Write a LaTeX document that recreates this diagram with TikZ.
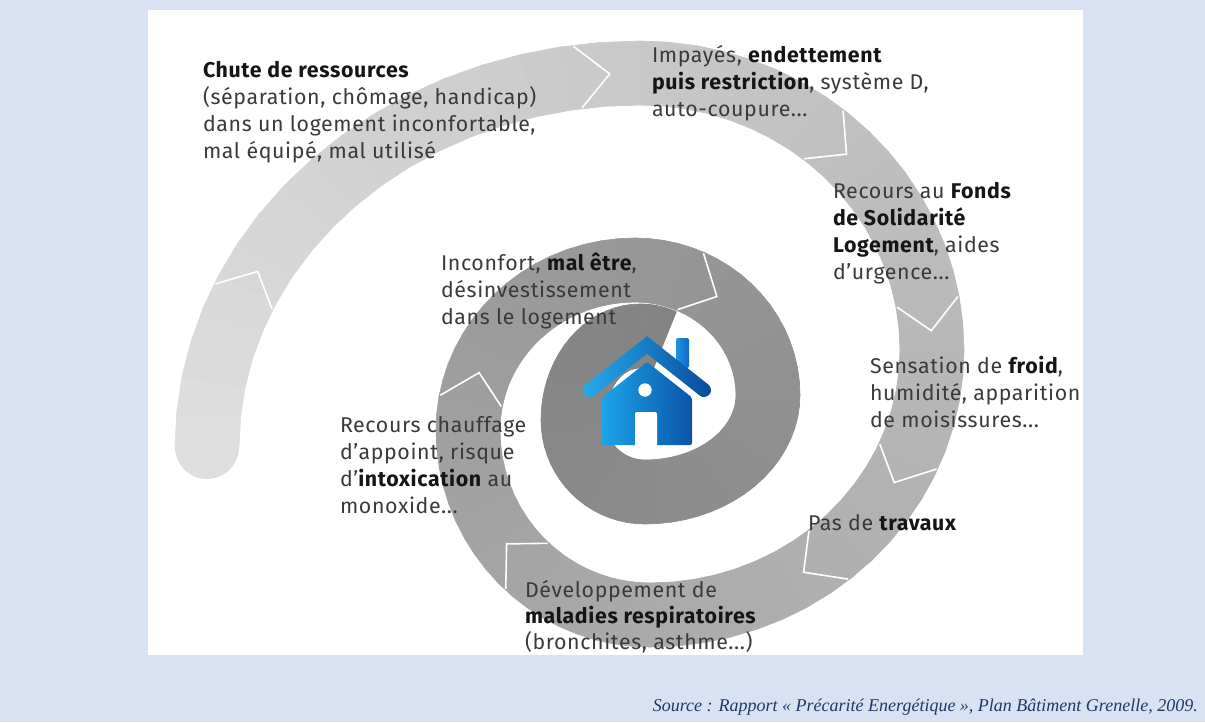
\documentclass[tikz,border=0pt]{standalone}
\usepackage{fontspec}
\setmainfont{Fira Sans}[LetterSpace=3]
\newfontfamily\srcfont{Liberation Serif}
\definecolor{bgblue}{HTML}{D9E2F3}
\definecolor{srcblue}{HTML}{1F3864}
\definecolor{txtc}{HTML}{3A3A3A}
\definecolor{boldc}{HTML}{151515}
\definecolor{roofL}{HTML}{25ABEF}
\definecolor{roofR}{HTML}{0A4B9C}
\definecolor{bodyL}{HTML}{1CA4EA}
\definecolor{bodyR}{HTML}{0B53A8}
\definecolor{chimL}{HTML}{1E95E2}
\definecolor{chimR}{HTML}{1268C4}
\definecolor{startc}{gray}{0.87}
\newcommand\bt[1]{{\bfseries\color{boldc}#1}}
\newcommand\lines[1]{\begin{tabular}[t]{@{}l@{}}#1\end{tabular}}
\begin{document}
\begin{tikzpicture}[x=0.75pt,y=-0.75pt,
  lbl/.style={anchor=base west, inner sep=0pt, outer sep=0pt, text=txtc, font=\fontsize{16pt}{20.25pt}\selectfont},
  lbltight/.style={lbl, font=\fontsize{16pt}{19.5pt}\selectfont},
  chevst/.style={white, line width=1.2pt, line join=miter},
]
\useasboundingbox (0,0) rectangle (1205,722);
\fill[bgblue] (0,0) rectangle (1205,722);
\fill[white] (148,10) rectangle (1083,655);
\def\dd{32}
% start cap
\fill[startc] (207,447) circle[radius=24pt];
% spiral band
\foreach \cx/\cy/\rx/\ry/\as/\ae in {640/447/433/374/180/270, 640/350/292/277/270/360, 650/350/282/265/360/450, 650/430/182/185/450/540, 635/430/167/160/540/630, 635/395/133/125/630/720, 645/395/123/97/720/810, 645/420/72/72/810/900, 640/420/67/84/900/990, 640/410/65/74/990/1012}{
  \foreach \i in {1,...,18}{
    \pgfmathsetmacro\aa{\as+(\i-1)*(\ae-\as)/18}
    \pgfmathsetmacro\ab{\as+\i*(\ae-\as)/18}
    \pgfmathsetmacro\gv{0.47+0.40*exp(-(\aa-180)/380)}
    \definecolor{bandc}{gray}{\gv}
    \filldraw[bandc, line width=0.5pt, line join=round]
      ({\cx+(\rx+\dd)*cos(\aa)},{\cy+(\ry+\dd)*sin(\aa)}) --
      ({\cx+(\rx+\dd)*cos(\ab)},{\cy+(\ry+\dd)*sin(\ab)}) --
      ({\cx+(\rx-\dd)*cos(\ab)},{\cy+(\ry-\dd)*sin(\ab)}) --
      ({\cx+(\rx-\dd)*cos(\aa)},{\cy+(\ry-\dd)*sin(\aa)}) -- cycle;
  }
}
% chevrons
\foreach \cx/\cy/\rx/\ry/\tp in {640/447/433/374/208, 640/447/433/374/266, 640/350/292/277/315, 640/350/292/277/356, 650/350/282/265/390, 650/350/282/265/417, 650/430/182/185/502, 635/430/167/160/561, 635/395/133/125/668}{
  \pgfmathsetmacro\bs{\tp-30/((\rx+\ry)/2)*57.2958}
  \draw[chevst] ({\cx+(\rx+\dd-1)*cos(\bs)},{\cy+(\ry+\dd-1)*sin(\bs)}) -- ({\cx+\rx*cos(\tp)},{\cy+\ry*sin(\tp)}) -- ({\cx+(\rx-\dd+1)*cos(\bs)},{\cy+(\ry-\dd+1)*sin(\bs)});
}
% house
\shade[left color=chimL, right color=chimR, rounded corners=1.5pt] (676,368) -- (676,338) -- (689,338) -- (689,368) -- cycle;
\shade[left color=roofL, right color=roofR] (585.7,384.5) -- (647,336.2) -- (708.3,384.5) arc[start angle=-51.7, end angle=128.3, radius=7] -- (647,353.8) -- (594.3,395.5) arc[start angle=51.7, end angle=231.7, radius=7] -- cycle;
\shade[left color=bodyL, right color=bodyR, rounded corners=1.5pt] (602,445) -- (602,397.5) -- (647,362) -- (692,397.5) -- (692,445) -- cycle;
\fill[white, rounded corners=1.5pt] (635,450) -- (635,412) -- (657,412) -- (657,450) -- cycle;
\fill[white] (645,390) circle[radius=5pt];
% texts
\node[lbl] (chute) at (203,77) {\lines{\bt{Chute de ressources}\\(séparation, chômage, handicap)\\dans un logement inconfortable,\\mal équipé, mal utilisé}};
\node[lbl] (impayes) at (652,62) {\lines{Impayés, \bt{endettement}\\\bt{puis restriction}, système D,\\auto-coupure...}};
\node[lbl] (fsl) at (833,198) {\lines{Recours au \bt{Fonds}\\\bt{de Solidarité}\\\bt{Logement}, aides\\d’urgence...}};
\node[lbl] (froid) at (870,373) {\lines{Sensation de \bt{froid},\\humidité, apparition\\de moisissures...}};
\node[lbl] (travaux) at (808,530) {Pas de \bt{travaux}};
\node[lbltight] (maladies) at (525,597) {\lines{Développement de\\\bt{maladies respiratoires}\\(bronchites, asthme...)}};
\node[lbl] (chauffage) at (340,432) {\lines{Recours chauffage\\d’appoint, risque\\d’\bt{intoxication} au\\monoxide...}};
\node[lbl] (malaise) at (441,270) {\lines{Inconfort, \bt{mal être},\\désinvestissement\\dans le logement}};
\node[anchor=base east, inner sep=0pt, text=srcblue, font=\srcfont\itshape\fontsize{13.5pt}{15pt}\selectfont] (source) at (1198,711) {Source : Rapport «~Précarité Energétique~», Plan Bâtiment Grenelle, 2009.};
\end{tikzpicture}
\end{document}
